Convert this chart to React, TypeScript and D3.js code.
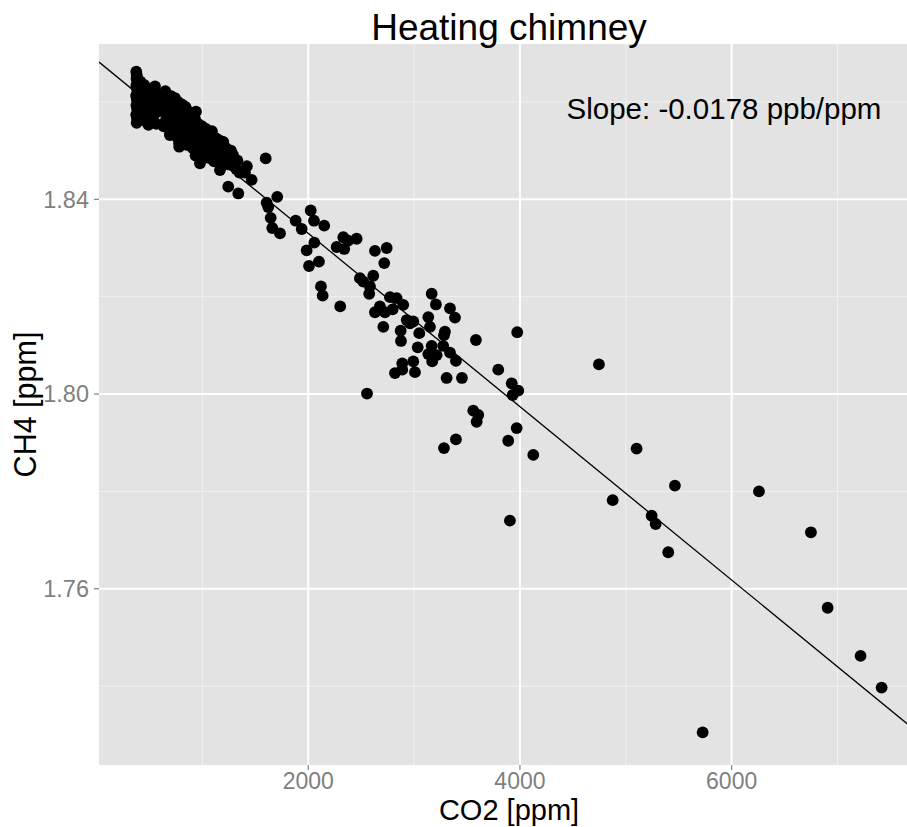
import React from "react";
import * as d3 from "d3";

const chartTitle = "Heating chimney";
const xLabel = "CO2 [ppm]";
const yLabel = "CH4 [ppm]";
const slopeLabel = "Slope: -0.0178 ppb/ppm";

const xMajorTicks = [2000, 4000, 6000];
const xMinorTicks = [1000, 3000, 5000, 7000];
const yMajorTicks = [1.76, 1.8, 1.84];
const yMinorTicks = [1.74, 1.78, 1.82, 1.86];

const fitIntercept = 1.8686;
const fitSlope = -0.0000178;

// [CO2 ppm, CH4 ppm]
const ambientCluster: [number, number][] = [
  [375, 1.8662], [380, 1.8655], [378, 1.8648], [385, 1.8641], [376, 1.8634],
  [382, 1.8627], [388, 1.862], [374, 1.8613], [380, 1.8606], [386, 1.86],
  [377, 1.8593], [383, 1.8586], [390, 1.858], [375, 1.8574], [381, 1.8567],
  [388, 1.8561], [379, 1.8557], [395, 1.859], [400, 1.861], [392, 1.863],
  [410, 1.8622], [415, 1.8598], [420, 1.8575], [405, 1.8565], [412, 1.8642],
  [430, 1.8628], [445, 1.8612], [460, 1.86], [475, 1.859], [440, 1.858],
  [455, 1.8568], [480, 1.8575], [500, 1.8615], [510, 1.8597], [520, 1.8582],
  [470, 1.856], [490, 1.8553], [505, 1.8625], [430, 1.8565], [533, 1.8618],
  [450, 1.8635], [465, 1.8622], [485, 1.8607], [530, 1.8565], [540, 1.8595],
  [552, 1.8632], [560, 1.8618], [575, 1.8605], [590, 1.859], [555, 1.8577],
  [565, 1.8555], [675, 1.8608], [769, 1.86],
  [610, 1.8612], [620, 1.8595], [630, 1.858], [635, 1.855],
  [650, 1.8622], [670, 1.861], [690, 1.8598], [660, 1.8585], [685, 1.8572],
  [650, 1.856], [675, 1.8548], [695, 1.8535], [693, 1.8532], [710, 1.859],
  [720, 1.8572], [715, 1.8555], [705, 1.8612], [725, 1.854],
  [740, 1.8608], [770, 1.8592], [755, 1.8588], [785, 1.8575], [745, 1.8565],
  [770, 1.8553], [790, 1.854], [760, 1.8528], [780, 1.8515], [781, 1.8508],
  [805, 1.8595], [815, 1.857], [800, 1.8552], [820, 1.8535], [810, 1.852],
  [840, 1.859], [870, 1.858], [850, 1.8568], [880, 1.8555], [835, 1.8545],
  [865, 1.8535], [880, 1.8522], [850, 1.8512], [900, 1.8565], [905, 1.854],
  [895, 1.852], [910, 1.8505],
  [939, 1.858], [930, 1.8565], [960, 1.8555], [975, 1.8542], [945, 1.853],
  [970, 1.8518], [950, 1.8505], [935, 1.849], [977, 1.8474], [995, 1.855],
  [1000, 1.8525], [1005, 1.85], [990, 1.8488],
  [1030, 1.8545], [1065, 1.853], [1040, 1.8518], [1070, 1.8505], [1025, 1.8495],
  [1060, 1.8485], [1135, 1.8522], [1197, 1.8518], [1130, 1.8525], [1170, 1.852],
  [1200, 1.851], [1140, 1.8505], [1185, 1.8495], [1150, 1.8485], [1205, 1.8478],
  [1095, 1.852], [1100, 1.8498], [1110, 1.8478], [1090, 1.854],
  [1166, 1.846], [1270, 1.85], [1289, 1.8491], [1308, 1.8481], [1330, 1.848],
  [1280, 1.847], [1320, 1.8462], [1350, 1.8455], [1244, 1.8426], [1420, 1.8468],
  [1235, 1.8495], [1240, 1.8472], [1225, 1.8505],
];

const plumeSamples: [number, number][] = [
  [1598, 1.8484], [1402, 1.8455], [1465, 1.844], [1339, 1.8412], [1707, 1.8405],
  [1607, 1.8393], [1622, 1.8384], [1645, 1.8362], [1660, 1.8341], [1733, 1.833],
  [1881, 1.8356], [1938, 1.8339], [2023, 1.8377], [2054, 1.8356], [2151, 1.8346],
  [2057, 1.8311], [1985, 1.8295], [2101, 1.8272], [2007, 1.8263], [2331, 1.8322],
  [2457, 1.8319], [2378, 1.8315], [2268, 1.8302], [2340, 1.8298], [2630, 1.8294],
  [2741, 1.83], [2718, 1.8269], [2614, 1.8243], [2488, 1.8238], [2520, 1.8231],
  [2583, 1.8221], [2576, 1.8206], [2120, 1.8221], [2136, 1.8202], [2302, 1.818],
  [2772, 1.8199], [2835, 1.8197], [2897, 1.8183], [2677, 1.818], [2630, 1.8168],
  [2725, 1.8168], [2797, 1.8174], [3166, 1.8206], [3206, 1.8184], [3339, 1.8176],
  [3386, 1.8157], [2930, 1.8152], [2992, 1.8149], [2961, 1.8145], [3134, 1.8158],
  [3150, 1.8138], [2709, 1.8138], [2873, 1.813], [3049, 1.8125], [3291, 1.8128],
  [3282, 1.8121], [3584, 1.8111], [3974, 1.8127], [2876, 1.8109], [3034, 1.8096],
  [3166, 1.8099], [3275, 1.8099], [3339, 1.8085], [3134, 1.8082], [3213, 1.808],
  [3171, 1.8067], [3395, 1.8068], [2888, 1.8063], [2992, 1.8067], [2819, 1.8043],
  [2888, 1.805], [3008, 1.8045], [3307, 1.8033], [3452, 1.8033], [3795, 1.805],
  [3922, 1.8022], [3984, 1.8007], [3931, 1.7998], [2555, 1.8001], [3559, 1.7966],
  [3606, 1.7957], [3591, 1.7943], [3969, 1.793], [3395, 1.7907], [3282, 1.7889],
  [3889, 1.7904], [4126, 1.7875], [4746, 1.8061], [5102, 1.7888], [5464, 1.7812],
  [4876, 1.7782], [5244, 1.775], [5282, 1.7733], [3905, 1.774], [5401, 1.7675],
  [6258, 1.78], [6749, 1.7716], [6907, 1.7561], [7218, 1.7462], [7417, 1.7397],
  [5726, 1.7305],
];

const W = 907;
const H = 827;
const panel = { left: 99, top: 44, right: 919, bottom: 765 };
const FONT = "'Liberation Sans', Arial, Helvetica, sans-serif";

export default function App() {
  const x = d3.scaleLinear().domain([23, 7770]).range([panel.left, panel.right]);
  const y = d3.scaleLinear().domain([1.7238, 1.8719]).range([panel.bottom, panel.top]);
  const all = [...ambientCluster, ...plumeSamples];
  const [x0, x1] = x.domain();
  const fitLine = d3
    .line<number>()
    .x((d) => x(d))
    .y((d) => y(fitIntercept + fitSlope * d))([x0, x1]);

  return (
    <svg
      width={W}
      height={H}
      style={{ position: "absolute", left: 0, top: 0, background: "#ffffff" }}
      fontFamily={FONT}
    >
      <defs>
        <clipPath id="panelClip">
          <rect x={panel.left} y={panel.top} width={panel.right - panel.left} height={panel.bottom - panel.top} />
        </clipPath>
      </defs>
      <rect x={panel.left} y={panel.top} width={panel.right - panel.left} height={panel.bottom - panel.top} fill="#E3E3E3" />
      <g stroke="#F1F1F1" strokeWidth={1}>
        {xMinorTicks.map((t) => (
          <line key={"xm" + t} x1={x(t)} x2={x(t)} y1={panel.top} y2={panel.bottom} />
        ))}
        {yMinorTicks.map((t) => (
          <line key={"ym" + t} y1={y(t)} y2={y(t)} x1={panel.left} x2={panel.right} />
        ))}
      </g>
      <g stroke="#FFFFFF" strokeWidth={2}>
        {xMajorTicks.map((t) => (
          <line key={"xM" + t} x1={x(t)} x2={x(t)} y1={panel.top} y2={panel.bottom} />
        ))}
        {yMajorTicks.map((t) => (
          <line key={"yM" + t} y1={y(t)} y2={y(t)} x1={panel.left} x2={panel.right} />
        ))}
      </g>
      <g clipPath="url(#panelClip)">
        {all.map((d, i) => (
          <circle key={i} cx={x(d[0])} cy={y(d[1])} r={5.9} fill="#000000" />
        ))}
        <path d={fitLine || ""} stroke="#000000" strokeWidth={1.3} fill="none" />
      </g>
      <text x={724} y={119} fontSize={29.5} textAnchor="middle" fill="#000000">
        {slopeLabel}
      </text>
      <g stroke="#7F7F7F" strokeWidth={1.2}>
        {xMajorTicks.map((t) => (
          <line key={"xt" + t} x1={x(t)} x2={x(t)} y1={panel.bottom} y2={panel.bottom + 5} />
        ))}
        {yMajorTicks.map((t) => (
          <line key={"yt" + t} y1={y(t)} y2={y(t)} x1={panel.left - 5} x2={panel.left} />
        ))}
      </g>
      <g fill="#7F7F7F" fontSize={23}>
        {xMajorTicks.map((t) => (
          <text key={"xl" + t} x={x(t)} y={789} textAnchor="middle">
            {d3.format("d")(t)}
          </text>
        ))}
        {yMajorTicks.map((t) => (
          <text key={"yl" + t} x={89} y={y(t)} dy="0.35em" fontSize={23.5} textAnchor="end">
            {d3.format(".2f")(t)}
          </text>
        ))}
      </g>
      <text x={(panel.left + panel.right) / 2} y={820} fontSize={29} textAnchor="middle" fill="#000000">
        {xLabel}
      </text>
      <text
        transform={`translate(36,${(panel.top + panel.bottom) / 2}) rotate(-90)`}
        fontSize={30.5}
        textAnchor="middle"
        fill="#000000"
      >
        {yLabel}
      </text>
      <text x={(panel.left + panel.right) / 2} y={40} fontSize={37} textAnchor="middle" fill="#000000">
        {chartTitle}
      </text>
    </svg>
  );
}
